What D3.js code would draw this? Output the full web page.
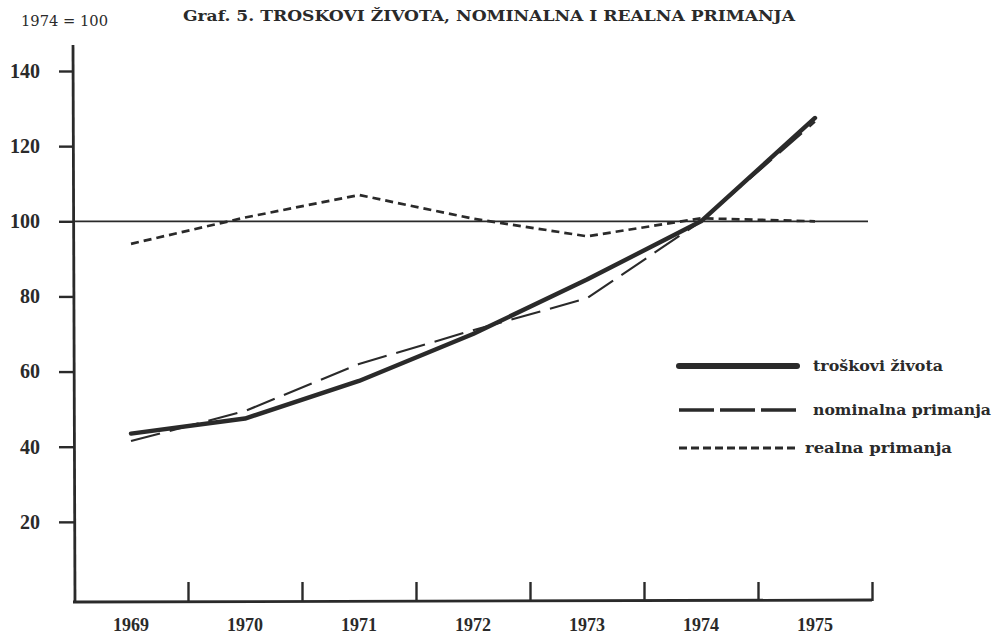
<!DOCTYPE html>
<html>
<head>
<meta charset="utf-8">
<script src="https://cdn.jsdelivr.net/npm/d3@7"></script>
<style>
  html, body { margin: 0; padding: 0; background: #fff; }
  svg { display: block; }
</style>
</head>
<body>
<svg id="chart" width="1001" height="635"></svg>
<script>
// ---- data ----
const years = ["1969", "1970", "1971", "1972", "1973", "1974", "1975"];
const troskoviZivota = [43.5, 47.5, 57.5, 70, 84.5, 100, 127.5];
const nominalnaPrimanja = [41.5, 49.5, 62, 71, 79.5, 100, 126.5];
const realnaPrimanja = [94, 101, 107, 100.7, 96, 100.8, 100];
const yTicks = [20, 40, 60, 80, 100, 120, 140];
const referenceLevel = [100];

const titleText = "Graf. 5. TROSKOVI ŽIVOTA, NOMINALNA  I  REALNA  PRIMANJA";
const indexText = "1974 = 100";
const legendLabels = ["troškovi života", "nominalna  primanja", "realna primanja"];

// ---- layout ----
const svg = d3.select("#chart");
const ink = "#2a2a2a";
const serif = "'DejaVu Serif', serif";
const numFont = "'Liberation Serif', 'Times New Roman', serif";

const x = d3.scaleBand().domain(years).range([74, 872]);
const xEdge = d3.scaleLinear().domain([0, years.length]).range([74, 872]);
const y = d3.scaleLinear().domain([0, 140]).range([597, 71]);
const cx = d => x(d) + x.bandwidth() / 2;

// title & index note
svg.append("text")
  .attr("x", 183).attr("y", 21)
  .attr("textLength", 612).attr("lengthAdjust", "spacingAndGlyphs")
  .style("font-family", serif).style("font-weight", "bold").style("font-size", "15.5px")
  .attr("fill", ink)
  .text(titleText);

svg.append("text")
  .attr("x", 21).attr("y", 26)
  .attr("textLength", 87).attr("lengthAdjust", "spacingAndGlyphs")
  .style("font-family", serif).style("font-size", "15px")
  .attr("fill", ink)
  .text(indexText);

// y axis
const yAxis = svg.append("g")
  .attr("transform", "translate(74,0)")
  .call(d3.axisLeft(y).tickValues(yTicks).tickSize(15).tickPadding(19).tickFormat(d3.format("d")));
yAxis.select(".domain").remove();
yAxis.selectAll(".tick line").attr("stroke", ink).attr("stroke-width", 2.4);
yAxis.selectAll(".tick text")
  .attr("fill", ink)
  .style("font-family", numFont).style("font-weight", "bold").style("font-size", "20px");
svg.append("line")
  .attr("x1", 73).attr("x2", 75).attr("y1", 45).attr("y2", 602)
  .attr("stroke", ink).attr("stroke-width", 2.8);

// x axis: tick marks at band edges
const xTicks = svg.append("g")
  .attr("transform", "translate(0,601)")
  .call(d3.axisBottom(xEdge).tickValues(d3.range(1, years.length + 1)).tickSize(-19).tickFormat(""));
xTicks.select(".domain").remove();
xTicks.selectAll(".tick line").attr("stroke", ink).attr("stroke-width", 2.4);
svg.append("line")
  .attr("x1", 73).attr("x2", 872).attr("y1", 602).attr("y2", 600)
  .attr("stroke", ink).attr("stroke-width", 2.8);

// x labels at band centres
const xLabels = svg.append("g")
  .attr("transform", "translate(0,601)")
  .call(d3.axisBottom(x).tickSize(0).tickPadding(17));
xLabels.select(".domain").remove();
xLabels.selectAll(".tick text")
  .attr("fill", ink)
  .style("font-family", numFont).style("font-weight", "bold").style("font-size", "18px");

// reference line at 100
svg.selectAll("line.ref").data(referenceLevel).enter().append("line")
  .attr("class", "ref")
  .attr("x1", 74).attr("x2", 868)
  .attr("y1", d => y(d)).attr("y2", d => y(d))
  .attr("stroke", ink).attr("stroke-width", 1.7);

// series
const line = d3.line().x((d, i) => cx(years[i])).y(d => y(d));
const series = [
  { values: realnaPrimanja, width: 2.7, dash: "8,5" },
  { values: nominalnaPrimanja, width: 2.1, dash: "30,10" },
  { values: troskoviZivota, width: 4.4, dash: null }
];
svg.selectAll("path.series").data(series).enter().append("path")
  .attr("class", "series")
  .attr("d", d => line(d.values))
  .attr("fill", "none")
  .attr("stroke", ink)
  .attr("stroke-width", d => d.width)
  .attr("stroke-dasharray", d => d.dash)
  .attr("stroke-linecap", d => d.dash ? "butt" : "round")
  .attr("stroke-linejoin", "round");

// legend
const legendStyles = [
  { width: 6, dash: null, y: 366, tx: 813, len: 130 },
  { width: 3.4, dash: "35,6", y: 410, tx: 813, len: 178 },
  { width: 3.2, dash: "8,4", y: 448, tx: 805, len: 147 }
];
const lg = svg.append("g");
legendStyles.forEach((s, i) => {
  lg.append("line")
    .attr("x1", 679).attr("x2", 797).attr("y1", s.y).attr("y2", s.y)
    .attr("stroke", ink).attr("stroke-width", s.width)
    .attr("stroke-dasharray", s.dash)
    .attr("stroke-linecap", s.dash ? "butt" : "round");
  lg.append("text")
    .attr("x", s.tx).attr("y", s.y + 5)
    .attr("textLength", s.len).attr("lengthAdjust", "spacingAndGlyphs")
    .style("font-family", serif).style("font-size", "15.5px")
    .style("font-weight", 600)
    .attr("fill", ink)
    .text(legendLabels[i]);
});
</script>
</body>
</html>
